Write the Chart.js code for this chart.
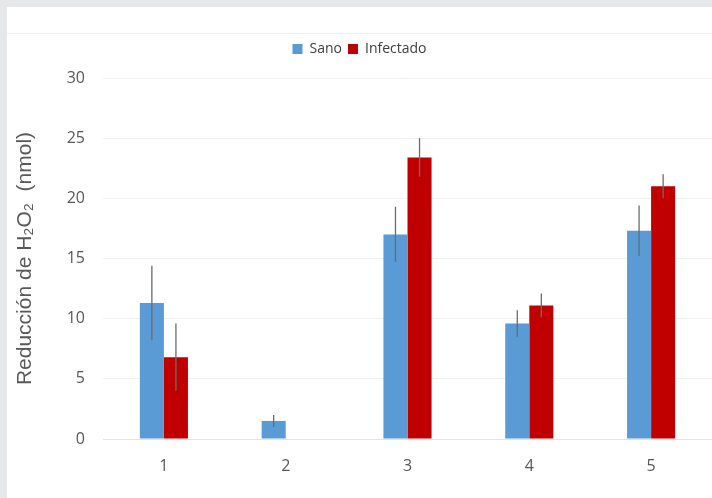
<!DOCTYPE html>
<html>
<head>
<meta charset="utf-8">
<script src="https://cdn.jsdelivr.net/npm/chart.js@4.4.0/dist/chart.umd.min.js"></script>
<style>
  html, body { margin: 0; padding: 0; background: #e6e7e9; }
  body { width: 712px; height: 498px; position: relative; overflow: hidden; }
  .panel { position: absolute; left: 7px; top: 7px; width: 705px; height: 491px; background: #fff; }
  .band { position: absolute; left: 0; top: 0; width: 705px; height: 26px; border-bottom: 1px solid #efefef; }
  .wrap { position: absolute; left: 0; top: 27px; width: 705px; height: 464px; }
</style>
</head>
<body>
<div class="panel">
  <div class="band"></div>
  <div class="wrap"><canvas id="chart" width="705" height="464"></canvas></div>
</div>
<script>
const categories = ['1', '2', '3', '4', '5'];
const sano       = [11.3, 1.5, 17.0, 9.6, 17.3];
const sanoErr    = [3.1, 0.5, 2.3, 1.1, 2.1];
const infectado  = [6.8, 0, 23.4, 11.1, 21.0];
const infErr     = [2.8, 0, 1.6, 1.0, 1.0];
const yTicks     = [0, 5, 10, 15, 20, 25, 30];

// vertical error lines, no caps
const errorBars = {
  id: 'errorBars',
  afterDatasetsDraw(chart) {
    const ctx = chart.ctx;
    const y = chart.scales.y;
    const errs = [sanoErr, infErr];
    chart.data.datasets.forEach((ds, i) => {
      const meta = chart.getDatasetMeta(i);
      meta.data.forEach((bar, j) => {
        const e = errs[i][j];
        if (!e) return;
        const v = ds.data[j];
        ctx.save();
        ctx.strokeStyle = '#6b6b6b';
        ctx.lineWidth = 1.3;
        ctx.beginPath();
        ctx.moveTo(bar.x, y.getPixelForValue(v + e));
        ctx.lineTo(bar.x, y.getPixelForValue(v - e));
        ctx.stroke();
        ctx.restore();
      });
    });
  }
};

// extra room under the legend
const legendGap = {
  id: 'legendGap',
  beforeInit(chart) {
    const fit = chart.legend.fit;
    chart.legend.fit = function () {
      fit.bind(chart.legend)();
      this.height += 12;
    };
  }
};

new Chart(document.getElementById('chart'), {
  type: 'bar',
  data: {
    labels: categories,
    datasets: [
      { label: 'Sano', data: sano, backgroundColor: '#5b9bd5', barPercentage: 1, categoryPercentage: 0.395 },
      { label: 'Infectado', data: infectado, backgroundColor: '#c00000', barPercentage: 1, categoryPercentage: 0.395 }
    ]
  },
  options: {
    responsive: false,
    animation: false,
    devicePixelRatio: 1,
    layout: { padding: { top: 2, right: 0, bottom: 0, left: 0 } },
    plugins: {
      legend: {
        position: 'top',
        labels: {
          boxWidth: 10, boxHeight: 10, padding: 6,
          color: '#404040',
          font: { family: 'Open Sans', size: 14 }
        }
      },
      tooltip: { enabled: false }
    },
    scales: {
      x: {
        grid: { display: false },
        border: { color: '#e4e4e4' },
        ticks: { color: '#595959', font: { family: 'Open Sans', size: 16 }, padding: 10 },
        afterFit(s) { s.height = 59; }
      },
      y: {
        min: 0, max: 30,
        afterBuildTicks(s) { s.ticks = yTicks.map(v => ({ value: v })); },
        grid: { color: '#f0f0f0', drawTicks: false },
        border: { display: false },
        ticks: { color: '#595959', font: { family: 'Open Sans', size: 16 }, padding: 18 },
        title: {
          display: true,
          text: 'Reducción de H₂O₂  (nmol)',
          color: '#595959',
          font: { family: 'Liberation Sans', size: 21 },
          padding: { top: 6, bottom: 0 }
        },
        afterFit(s) { s.width = 96; }
      }
    }
  },
  plugins: [errorBars, legendGap]
});
</script>
</body>
</html>
